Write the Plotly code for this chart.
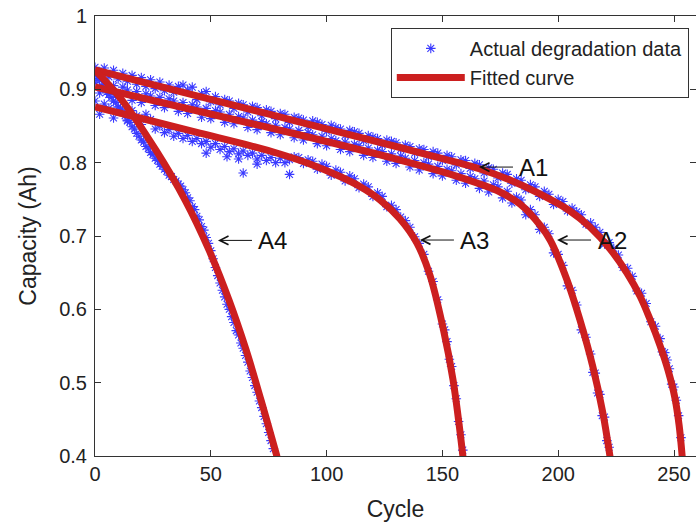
import plotly.graph_objects as go

# ---------------- data ----------------
# Fitted curves: points
fit_a1_x = [0, 45.3, 88.5, 131.7, 153.3, 166.2, 179.2, 192.1, 205.1, 213.7, 222.4, 229.7, 235.3, 239.6,
            243.9, 247.4, 250.4, 252.2, 253.55]
fit_a1_y = [0.9264, 0.8902, 0.8554, 0.8207, 0.8029, 0.7914, 0.7764, 0.7573, 0.7341, 0.7123, 0.6823, 0.6495,
            0.6182, 0.5868, 0.5513, 0.5172, 0.4791, 0.4422, 0.399]

fit_a2_x = [0, 45.3, 88.5, 131.7, 153.3, 166.2, 174.9, 183.5, 192.1, 196.5, 203.8, 209.4, 215.0, 219.3, 222.4]
fit_a2_y = [0.9032, 0.8698, 0.8377, 0.8036, 0.7845, 0.7709, 0.7600, 0.7436, 0.715, 0.6945, 0.6400, 0.5854,
            0.5213, 0.4586, 0.3986]

fit_a3_x = [0, 23.7, 45.3, 66.9, 79.9, 92.8, 105.8, 114.4, 123.1, 131.7, 139.0, 144.6, 150.3, 154.6, 158.9]
fit_a3_y = [0.876, 0.8575, 0.8404, 0.8234, 0.8118, 0.7982, 0.7811, 0.7675, 0.7491, 0.7232, 0.6904, 0.6468,
            0.5745, 0.5036, 0.3986]

fit_a4_x = [0, 11.7, 26.3, 38.9, 49.2, 57.8, 65.2, 71.7, 78.6]
fit_a4_y = [0.926, 0.885, 0.817, 0.749, 0.681, 0.613, 0.545, 0.476, 0.399]

# Actual degradation data (cycle, capacity)
a1_x = [0, 2, 4, 6, 8, 10, 12, 14, 16, 18, 20, 22, 24, 26, 28, 30, 32, 34, 36, 38, 40, 42, 44, 46, 48, 50,
        52, 54, 56, 58, 60, 62, 64, 66, 68, 70, 72, 74, 76, 78, 80, 82, 84, 86, 88, 90, 92, 94, 96, 98, 100,
        102, 104, 106, 108, 110, 112, 114, 116, 118, 120, 122, 124, 126, 128, 130, 132, 134, 136, 138, 140,
        142, 144, 146, 148, 150, 152, 154, 156, 158, 160, 162, 164, 166, 168, 170, 172, 174, 176, 178, 180,
        182, 184, 186, 188, 190, 192, 194, 196, 198, 200, 202, 204, 206, 208, 210, 212, 214, 216, 218, 220,
        222, 224, 226, 228, 230, 232, 234, 236, 238, 240, 242, 244, 245, 246, 247, 248, 249, 250, 251, 252,
        253]
a1_y = [0.930, 0.921, 0.929, 0.917, 0.926, 0.914, 0.922, 0.911, 0.919, 0.907, 0.916, 0.904, 0.913, 0.901,
        0.910, 0.898, 0.906, 0.896, 0.904, 0.906, 0.899, 0.903, 0.886, 0.894, 0.897, 0.883, 0.890, 0.879,
        0.886, 0.884, 0.874, 0.881, 0.879, 0.869, 0.877, 0.875, 0.864, 0.872, 0.870, 0.860, 0.867, 0.866,
        0.855, 0.862, 0.861, 0.858, 0.849, 0.857, 0.855, 0.852, 0.843, 0.851, 0.848, 0.846, 0.837, 0.844,
        0.842, 0.840, 0.830, 0.837, 0.835, 0.833, 0.824, 0.831, 0.829, 0.827, 0.818, 0.824, 0.822, 0.813,
        0.819, 0.818, 0.808, 0.815, 0.813, 0.803, 0.810, 0.808, 0.797, 0.804, 0.803, 0.792, 0.799, 0.797,
        0.786, 0.793, 0.791, 0.779, 0.786, 0.784, 0.772, 0.778, 0.776, 0.763, 0.770, 0.767, 0.754, 0.761,
        0.757, 0.743, 0.750, 0.747, 0.734, 0.738, 0.733, 0.729, 0.716, 0.718, 0.712, 0.705, 0.689, 0.691,
        0.683, 0.674, 0.657, 0.656, 0.645, 0.625, 0.622, 0.608, 0.583, 0.577, 0.560, 0.542, 0.541, 0.531,
        0.519, 0.498, 0.494, 0.476, 0.455, 0.425]

a2_x = [0, 2, 4, 6, 8, 10, 12, 14, 16, 18, 20, 22, 24, 26, 28, 30, 32, 34, 36, 38, 40, 42, 44, 46, 48, 50,
        52, 54, 56, 58, 60, 62, 64, 66, 68, 70, 72, 74, 76, 78, 80, 82, 84, 86, 88, 90, 92, 94, 96, 98, 100,
        102, 104, 106, 108, 110, 112, 114, 116, 118, 120, 122, 124, 126, 128, 130, 132, 134, 136, 138, 140,
        142, 144, 146, 148, 150, 152, 154, 156, 158, 160, 162, 164, 166, 168, 170, 172, 174, 176, 178, 180,
        182, 184, 186, 188, 190, 192, 194, 196, 198, 200, 202, 204, 206, 208, 210, 212, 214, 215, 216, 217,
        218, 219, 220, 221, 222]
a2_y = [0.909, 0.895, 0.907, 0.893, 0.905, 0.890, 0.903, 0.899, 0.885, 0.897, 0.882, 0.894, 0.891, 0.878,
        0.889, 0.875, 0.887, 0.884, 0.870, 0.882, 0.867, 0.879, 0.876, 0.862, 0.874, 0.860, 0.871, 0.869,
        0.855, 0.866, 0.853, 0.863, 0.861, 0.848, 0.858, 0.845, 0.856, 0.853, 0.841, 0.851, 0.838, 0.848,
        0.846, 0.834, 0.844, 0.831, 0.841, 0.838, 0.826, 0.836, 0.823, 0.833, 0.830, 0.818, 0.828, 0.815,
        0.825, 0.823, 0.810, 0.820, 0.807, 0.817, 0.815, 0.802, 0.812, 0.799, 0.809, 0.806, 0.794, 0.803,
        0.790, 0.800, 0.798, 0.785, 0.795, 0.782, 0.791, 0.789, 0.776, 0.785, 0.772, 0.781, 0.778, 0.765,
        0.775, 0.760, 0.770, 0.767, 0.752, 0.761, 0.745, 0.753, 0.749, 0.729, 0.736, 0.729, 0.709, 0.712,
        0.703, 0.677, 0.675, 0.660, 0.632, 0.626, 0.606, 0.572, 0.562, 0.539, 0.514, 0.513, 0.486, 0.484,
        0.455, 0.453, 0.421, 0.412]

a3_x = [0, 2, 4, 6, 8, 10, 12, 14, 16, 18, 20, 22, 24, 26, 28, 30, 32, 34, 36, 38, 40, 42, 44, 46, 48, 50,
        52, 54, 56, 58, 60, 62, 64, 66, 68, 70, 72, 74, 76, 78, 80, 82, 84, 86, 88, 90, 92, 94, 96, 98, 100,
        102, 104, 106, 108, 110, 112, 114, 116, 118, 120, 122, 124, 126, 128, 130, 132, 134, 136, 138, 140,
        142, 144, 146, 148, 150, 151, 152, 153, 154, 155, 156, 157, 158, 158.8,
        64, 84, 57, 48, 70, 62]
a3_y = [0.884, 0.866, 0.880, 0.874, 0.861, 0.876, 0.869, 0.857, 0.871, 0.864, 0.852, 0.866, 0.859, 0.846,
        0.850, 0.841, 0.845, 0.836, 0.840, 0.833, 0.837, 0.829, 0.833, 0.826, 0.829, 0.821, 0.826, 0.818,
        0.822, 0.815, 0.819, 0.812, 0.816, 0.810, 0.813, 0.805, 0.810, 0.803, 0.807, 0.800, 0.806, 0.800,
        0.804, 0.808, 0.807, 0.799, 0.804, 0.802, 0.791, 0.798, 0.795, 0.783, 0.790, 0.787, 0.775, 0.782,
        0.778, 0.766, 0.771, 0.767, 0.754, 0.759, 0.754, 0.740, 0.742, 0.736, 0.726, 0.721, 0.712, 0.699,
        0.690, 0.675, 0.652, 0.638, 0.613, 0.580, 0.572, 0.556, 0.532, 0.522, 0.496, 0.478, 0.447, 0.429,
        0.408,
        0.786, 0.784, 0.808, 0.813, 0.798, 0.805]

a4_x = [0, 1, 2, 3, 4, 5, 6, 7, 8, 9, 10, 11, 12, 13, 14, 15, 16, 17, 18, 19, 20, 21, 22, 23, 24, 25, 26,
        27, 28, 29, 30, 31, 32, 33, 34, 35, 36, 37, 38, 39, 40, 41, 42, 43, 44, 45, 46, 47, 48, 49, 50, 51,
        52, 53, 54, 55, 56, 57, 58, 59, 60, 61, 62, 63, 64, 65, 66, 67, 68, 69, 70, 71, 72, 73, 74, 75, 76,
        77]
a4_y = [0.920, 0.915, 0.912, 0.905, 0.903, 0.896, 0.893, 0.889, 0.884, 0.882, 0.876, 0.873, 0.868, 0.864,
        0.858, 0.855, 0.849, 0.846, 0.840, 0.836, 0.831, 0.828, 0.822, 0.819, 0.814, 0.811, 0.806, 0.803,
        0.798, 0.795, 0.791, 0.788, 0.783, 0.781, 0.777, 0.775, 0.771, 0.768, 0.763, 0.759, 0.752, 0.748,
        0.740, 0.736, 0.727, 0.722, 0.713, 0.708, 0.698, 0.690, 0.680, 0.669, 0.657, 0.646, 0.636, 0.626,
        0.617, 0.607, 0.600, 0.590, 0.582, 0.571, 0.565, 0.554, 0.547, 0.537, 0.528, 0.516, 0.507, 0.496,
        0.487, 0.475, 0.466, 0.454, 0.444, 0.432, 0.421, 0.410]

labels = ["A1", "A2", "A3", "A4"]
label_x = [165.8, 199.5, 140.3, 53.1]
label_y = [0.794, 0.6945, 0.6945, 0.694]

x_ticks = [0, 50, 100, 150, 200, 250]
y_ticks = [0.4, 0.5, 0.6, 0.7, 0.8, 0.9, 1.0]
y_tick_text = ["0.4", "0.5", "0.6", "0.7", "0.8", "0.9", "1"]

# ---------------- figure ----------------
BLUE = "#3a3aff"
RED = "#cc1f1f"
FONT = "Liberation Sans, Arial, sans-serif"

fig = go.Figure()

data_sets = [(a1_x, a1_y), (a2_x, a2_y), (a3_x, a3_y), (a4_x, a4_y)]
for i, (xs, ys) in enumerate(data_sets):
    fig.add_trace(go.Scatter(
        x=xs, y=ys, mode="markers",
        marker=dict(symbol="asterisk-open", size=8, color=BLUE, line=dict(color=BLUE, width=1.1)),
        name="Actual degradation data", legendgroup="data", showlegend=(i == 0),
    ))

fits = [(fit_a1_x, fit_a1_y), (fit_a2_x, fit_a2_y), (fit_a3_x, fit_a3_y), (fit_a4_x, fit_a4_y)]
for i, (xs, ys) in enumerate(fits):
    fig.add_trace(go.Scatter(
        x=xs, y=ys, mode="lines",
        line=dict(color=RED, width=7, shape="spline", smoothing=1.0),
        name="Fitted curve", legendgroup="fit", showlegend=(i == 0),
    ))

# invisible trace so the right-hand tick axis is drawn
fig.add_trace(go.Scatter(x=[None], y=[None], yaxis="y2", showlegend=False, hoverinfo="skip"))

for t, lx, ly in zip(labels, label_x, label_y):
    fig.add_annotation(x=lx, y=ly, text=t, showarrow=True, ax=55, ay=0,
                       arrowhead=5, arrowsize=1.7, arrowwidth=1, arrowcolor="#111",
                       standoff=0, borderpad=6,
                       font=dict(size=24, color="#111", family=FONT))

axis_common = dict(showgrid=False, zeroline=False, ticks="inside", ticklen=6,
                   tickcolor="#333", linecolor="#333", linewidth=1,
                   tickfont=dict(size=20, color="#222", family=FONT))

fig.update_layout(
    width=696, height=527,
    margin=dict(l=95, r=0, t=16, b=71),
    paper_bgcolor="white", plot_bgcolor="white",
    font=dict(family=FONT, color="#222"),
    xaxis=dict(range=[0, 259.5], tickvals=x_ticks, showline=True, mirror="ticks",
               title=dict(text="Cycle", font=dict(size=23, family=FONT, color="#222"), standoff=16),
               **axis_common),
    yaxis=dict(range=[0.4, 1.0], tickvals=y_ticks, ticktext=y_tick_text, showline=True, mirror=False,
               ticklabelstandoff=3,
               title=dict(text="Capacity (Ah)", font=dict(size=23, family=FONT, color="#222"), standoff=16),
               **axis_common),
    yaxis2=dict(range=[0.4, 1.0], tickvals=y_ticks, overlaying="y", side="right", showline=False,
                showticklabels=False, showgrid=False, zeroline=False, ticks="inside", ticklen=6,
                tickcolor="#333"),
    legend=dict(x=0.988, y=0.973, xanchor="right", yanchor="top", itemwidth=68, tracegroupgap=0,
                bordercolor="#333", borderwidth=1, bgcolor="white",
                font=dict(size=20, family=FONT, color="#222")),
    showlegend=True,
)

fig.write_html("out.html")
